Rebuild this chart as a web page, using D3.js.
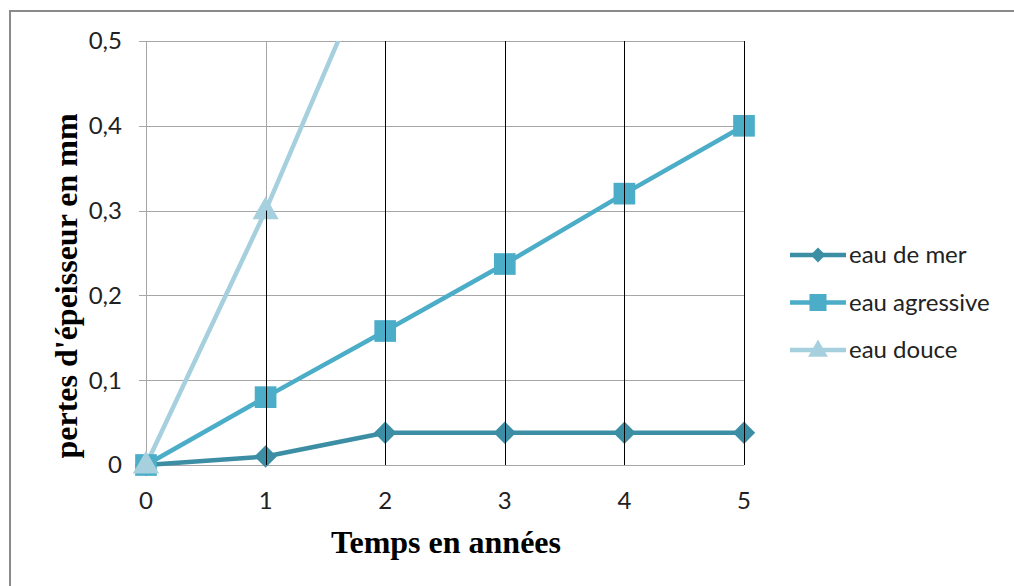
<!DOCTYPE html>
<html>
<head>
<meta charset="utf-8">
<script src="https://cdn.jsdelivr.net/npm/d3@7"></script>
<style>
    body { margin: 0; background: #fff; }
    svg { display: block; }
</style>
</head>
<body>
<svg width="1014" height="586"></svg>
<script>
let years = [0, 1, 2, 3, 4, 5]
let eauDeMer = [0, 0.01, 0.038, 0.038, 0.038, 0.038]
let eauAgressive = [0, 0.08, 0.158, 0.237, 0.32, 0.40]
let eauDouce = [0, 0.3, 0.63, 0.95, 1.27, 1.6]
let yTicks = [0, 0.1, 0.2, 0.3, 0.4, 0.5]
let seriesNames = ['eau de mer', 'eau agressive', 'eau douce']
let seriesColors = ['#3c8ea4', '#4badc7', '#a6d0de']

let series = [eauDeMer, eauAgressive, eauDouce]

let svg = d3.select('svg')

let plotLeft = 146
let plotRight = 744
let plotTop = 41
let plotBottom = 465

let xScale = d3.scaleLinear().domain([0, 5]).range([plotLeft, plotRight])
let yScale = d3.scaleLinear().domain([0, 0.5]).range([plotBottom, plotTop])

let tickFont = 'Lato, "Open Sans", sans-serif'
let labelFont = '"Liberation Serif", "Times New Roman", serif'

// marqueurs : losange = carré tourné
let marker = (s, big) => {
    if (s === 0) {
        return { d: d3.symbol().type(d3.symbolSquare).size(big ? 250 : 110)(), rot: 45, dy: 0 }
    } else if (s === 1) {
        return { d: d3.symbol().type(d3.symbolSquare).size(big ? 470 : 290)(), rot: 0, dy: 0 }
    } else {
        return { d: d3.symbol().type(d3.symbolTriangle).size(big ? 300 : 170)(), rot: 0, dy: 1 }
    }
}

// cadre
svg.append('rect')
    .attr('x', 10)
    .attr('y', 11)
    .attr('width', 1030)
    .attr('height', 620)
    .attr('fill', 'none')
    .attr('stroke', '#8a8a8a')
    .attr('stroke-width', 2)

svg.append('clipPath')
    .attr('id', 'clip')
    .append('rect')
    .attr('x', 0)
    .attr('y', plotTop)
    .attr('width', 1014)
    .attr('height', 586 - plotTop)

// grille horizontale
svg.append('g')
    .selectAll('line')
    .data(yTicks)
    .enter()
    .append('line')
    .attr('x1', plotLeft - 7)
    .attr('x2', plotRight)
    .attr('y1', d => Math.round(yScale(d)) + 0.5)
    .attr('y2', d => Math.round(yScale(d)) + 0.5)
    .attr('stroke', '#a6a6a6')
    .attr('stroke-width', 1)

// grille verticale
svg.append('g')
    .selectAll('line')
    .data(years)
    .enter()
    .append('line')
    .attr('x1', d => Math.round(xScale(d)) + 0.5)
    .attr('x2', d => Math.round(xScale(d)) + 0.5)
    .attr('y1', plotTop)
    .attr('y2', plotBottom)
    .attr('stroke', '#a6a6a6')
    .attr('stroke-width', 1)

let line = d3.line()
    .x((d, i) => xScale(years[i]))
    .y(d => yScale(d))

let plot = svg.append('g').attr('clip-path', 'url(#clip)')

series.forEach((values, s) => {
    plot.append('path')
        .datum(values)
        .attr('d', line)
        .attr('fill', 'none')
        .attr('stroke', seriesColors[s])
        .attr('stroke-width', 4.5)
        .attr('stroke-linejoin', 'round')
})

series.forEach((values, s) => {
    let m = marker(s, true)
    plot.append('g')
        .selectAll('path')
        .data(values)
        .enter()
        .append('path')
        .attr('d', m.d)
        .attr('transform', (d, i) => `translate(${xScale(years[i])},${yScale(d) + m.dy}) rotate(${m.rot})`)
        .attr('fill', seriesColors[s])
})

// lignes de projection
let dropData = years.map((t, i) => {
    return { t: t, v: Math.min(d3.max(series, values => values[i]), 0.5) }
}).filter(d => d.v > 0)

svg.append('g')
    .selectAll('line')
    .data(dropData)
    .enter()
    .append('line')
    .attr('x1', d => Math.round(xScale(d.t)) + 0.5)
    .attr('x2', d => Math.round(xScale(d.t)) + 0.5)
    .attr('y1', d => yScale(d.v))
    .attr('y2', plotBottom)
    .attr('stroke', '#000')
    .attr('stroke-width', 1)

// axe y
svg.append('g')
    .selectAll('text')
    .data(yTicks)
    .enter()
    .append('text')
    .attr('x', plotLeft - 24)
    .attr('y', d => yScale(d))
    .attr('dy', '0.35em')
    .attr('text-anchor', 'end')
    .attr('font-family', tickFont)
    .attr('font-size', 24)
    .attr('fill', '#222')
    .text(d => d3.format('.1f')(d).replace('.', ',').replace(/^0,0$/, '0'))

// axe x
svg.append('g')
    .selectAll('text')
    .data(years)
    .enter()
    .append('text')
    .attr('x', d => xScale(d))
    .attr('y', 501)
    .attr('dy', '0.35em')
    .attr('text-anchor', 'middle')
    .attr('font-family', tickFont)
    .attr('font-size', 24)
    .attr('fill', '#222')
    .text(d => d)

svg.append('text')
    .attr('x', 446)
    .attr('y', 553)
    .attr('text-anchor', 'middle')
    .attr('font-family', labelFont)
    .attr('font-weight', 'bold')
    .attr('font-size', 32)
    .attr('fill', '#000')
    .text('Temps en années')

svg.append('text')
    .attr('transform', 'translate(66,286) rotate(-90)')
    .attr('dy', '0.35em')
    .attr('text-anchor', 'middle')
    .attr('font-family', labelFont)
    .attr('font-weight', 'bold')
    .attr('font-size', 32)
    .attr('fill', '#000')
    .text("pertes d'épeisseur en mm")

// légende
let legend = svg.append('g')
    .selectAll('g')
    .data(seriesNames)
    .enter()
    .append('g')
    .attr('transform', (d, i) => `translate(790,${255 + i * 47.5})`)

legend.append('line')
    .attr('x1', 0)
    .attr('x2', 56)
    .attr('stroke', (d, i) => seriesColors[i])
    .attr('stroke-width', 4.5)

legend.append('path')
    .attr('d', (d, i) => marker(i, false).d)
    .attr('transform', (d, i) => `translate(28,${marker(i, false).dy}) rotate(${marker(i, false).rot})`)
    .attr('fill', (d, i) => seriesColors[i])

legend.append('text')
    .attr('x', 59)
    .attr('dy', '0.35em')
    .attr('font-family', tickFont)
    .attr('font-size', 24)
    .attr('fill', '#222')
    .text(d => d)
</script>
</body>
</html>
